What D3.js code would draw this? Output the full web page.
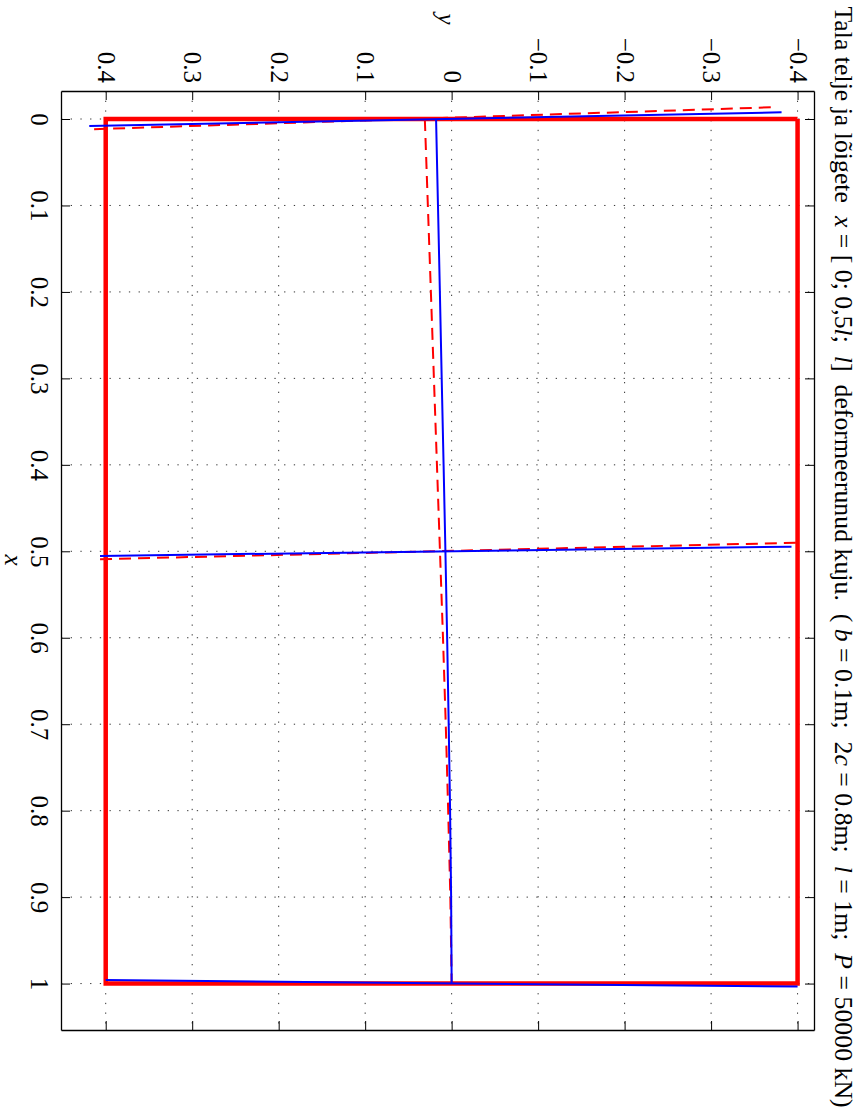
<!DOCTYPE html>
<html><head><meta charset="utf-8">
<script src="https://cdn.jsdelivr.net/npm/d3@7"></script>
<style>
html,body{margin:0;padding:0;background:#fff;}
svg text{font-family:"Liberation Serif","Times New Roman",Times,serif !important;fill:#000 !important;}
</style></head>
<body><svg id="chart" width="863" height="1115"></svg>
<script>
// ---- data ----
const xTicks = [0,0.1,0.2,0.3,0.4,0.5,0.6,0.7,0.8,0.9,1];
const xTickLabels = ["0","0.1","0.2","0.3","0.4","0.5","0.6","0.7","0.8","0.9","1"];
const yTicks = [-0.4,-0.3,-0.2,-0.1,0,0.1,0.2,0.3,0.4];
const yTickLabels = ["\u22120.4","\u22120.3","\u22120.2","\u22120.1","0","0.1","0.2","0.3","0.4"];
const xLim = [-0.0324, 1.0537];
const yLim = [-0.419, 0.4517];

// undeformed outline (thick red)
const outlineX = [0, 0, 1, 1, 0];
const outlineY = [-0.4, 0.4, 0.4, -0.4, -0.4];

// deformed axis - blue solid
const axisX = [0, 0.1, 0.2, 0.3, 0.4, 0.5, 0.6, 0.7, 0.8, 0.9, 1];
const blueAxisY = [0.018, 0.0158, 0.0136, 0.0115, 0.0093, 0.0072, 0.0052, 0.0034, 0.0018, 0.0006, 0];
// deformed axis - red dashed
const redAxisY = [0.031, 0.0275, 0.024, 0.0205, 0.017, 0.0135, 0.0100, 0.0068, 0.004, 0.0015, 0];

// deformed sections (end a: +y side, end b: -y side)
const blueSecXa = [0.0081, 0.5054, 0.9960];
const blueSecYa = [0.419, 0.4066, 0.400];
const blueSecXb = [-0.0077, 0.4947, 1.0035];
const blueSecYb = [-0.3815, -0.393, -0.400];

const redSecXa = [0.0119, 0.5092, 1.0];
const redSecYa = [0.4175, 0.4100, 0.400];
const redSecXb = [-0.0135, 0.4901, 1.0];
const redSecYb = [-0.369, -0.398, -0.400];

// ---- drawing ----
const svg = d3.select("#chart");
const L = 61, R = 814, T = 91, B = 1030;
const xS = d3.scaleLinear().domain(xLim).range([T, B]);   // data x -> screen vertical
const yS = d3.scaleLinear().domain(yLim).range([R, L]);   // data y -> screen horizontal (reversed)

// grid
const grid = svg.append("g").attr("stroke","#333").attr("stroke-width",1).attr("stroke-dasharray","1.3,8.4");
grid.selectAll("line.gx").data(xTicks).join("line")
  .attr("x1",L).attr("x2",R).attr("y1",d=>xS(d)).attr("y2",d=>xS(d));
grid.selectAll("line.gy").data(yTicks).join("line")
  .attr("y1",T).attr("y2",B).attr("x1",d=>yS(d)).attr("x2",d=>yS(d));

// axes
function styleAxis(g){ g.attr("font-family",null).attr("font-size",null);
  g.select(".domain").attr("stroke","#000").attr("stroke-width",1.3);
  g.selectAll(".tick line").attr("stroke","#000").attr("stroke-width",1); }
const axL = svg.append("g").attr("transform",`translate(${L},0)`)
  .call(d3.axisLeft(xS).tickValues(xTicks).tickSizeInner(-9).tickSizeOuter(0).tickFormat((d,i)=>xTickLabels[i]));
axL.call(styleAxis);
axL.selectAll(".tick text").attr("x",null).attr("dy",null).attr("text-anchor","middle").attr("fill","#000")
  .attr("transform","translate(-30,0) rotate(90)").style("font-size","25px");
const axR = svg.append("g").attr("transform",`translate(${R},0)`)
  .call(d3.axisRight(xS).tickValues(xTicks).tickSizeInner(-9).tickSizeOuter(0).tickFormat(""));
axR.call(styleAxis);
const axT = svg.append("g").attr("transform",`translate(0,${T})`)
  .call(d3.axisTop(yS).tickValues(yTicks).tickSizeInner(-9).tickSizeOuter(0).tickFormat((d,i)=>yTickLabels[i]));
axT.call(styleAxis);
axT.selectAll(".tick text").attr("y",null).attr("dy","0.34em").attr("text-anchor","end").attr("fill","#000")
  .attr("transform","translate(0,-8) rotate(90)").style("font-size","25px");
const axB = svg.append("g").attr("transform",`translate(0,${B})`)
  .call(d3.axisBottom(yS).tickValues(yTicks).tickSizeInner(-9).tickSizeOuter(0).tickFormat(""));
axB.call(styleAxis);

// lines
const line = d3.line().x(d=>yS(d[1])).y(d=>xS(d[0]));
const outline = outlineX.map((x,i)=>[x,outlineY[i]]);
svg.append("path").attr("d",line(outline)).attr("fill","none").attr("stroke","#ff0000")
  .attr("stroke-width",4.5).attr("stroke-linejoin","miter");

const redAxis = axisX.map((x,i)=>[x,redAxisY[i]]);
svg.append("path").attr("d",line(redAxis)).attr("fill","none").attr("stroke","#ff0000")
  .attr("stroke-width",2).attr("stroke-dasharray","12,7");
svg.selectAll("path.rs").data(redSecXa.map((x,i)=>[[redSecXb[i],redSecYb[i]],[x,redSecYa[i]]])).join("path")
  .attr("class","rs").attr("d",d=>line(d)).attr("fill","none").attr("stroke","#ff0000")
  .attr("stroke-width",2).attr("stroke-dasharray","12,7");

const blueAxis = axisX.map((x,i)=>[x,blueAxisY[i]]);
svg.append("path").attr("d",line(blueAxis)).attr("fill","none").attr("stroke","#0000ff").attr("stroke-width",2);
svg.selectAll("path.bs").data(blueSecXa.map((x,i)=>[[x,blueSecYa[i]],[blueSecXb[i],blueSecYb[i]]])).join("path")
  .attr("class","bs").attr("d",d=>line(d)).attr("fill","none").attr("stroke","#0000ff").attr("stroke-width",2);

// axis labels
svg.append("text").attr("transform",`translate(438,19) rotate(90)`).attr("text-anchor","middle")
  .style("font-size","25px").style("font-style","italic").text("y");
svg.append("text").attr("transform",`translate(5,560) rotate(90)`).attr("text-anchor","middle")
  .style("font-size","25px").style("font-style","italic").text("x");

// title
const title = svg.append("text").attr("transform",`translate(835,557) rotate(90)`).attr("text-anchor","middle")
  .style("font-size","25.8px").style("white-space","pre");
const parts = [["Tala telje ja lõigete  ",0],["x",1],[" = [ 0; 0,5",0],["l",1],[";  ",0],["l",1],["]  deformeerunud kuju.  ( ",0],
  ["b",1],[" = 0.1m;  2",0],["c",1],[" = 0.8m;  ",0],["l",1],[" = 1m;  ",0],["P",1],[" = 50000 kN)",0]];
parts.forEach(p=>title.append("tspan").style("font-style",p[1]?"italic":"normal").text(p[0]));
</script></body></html>
